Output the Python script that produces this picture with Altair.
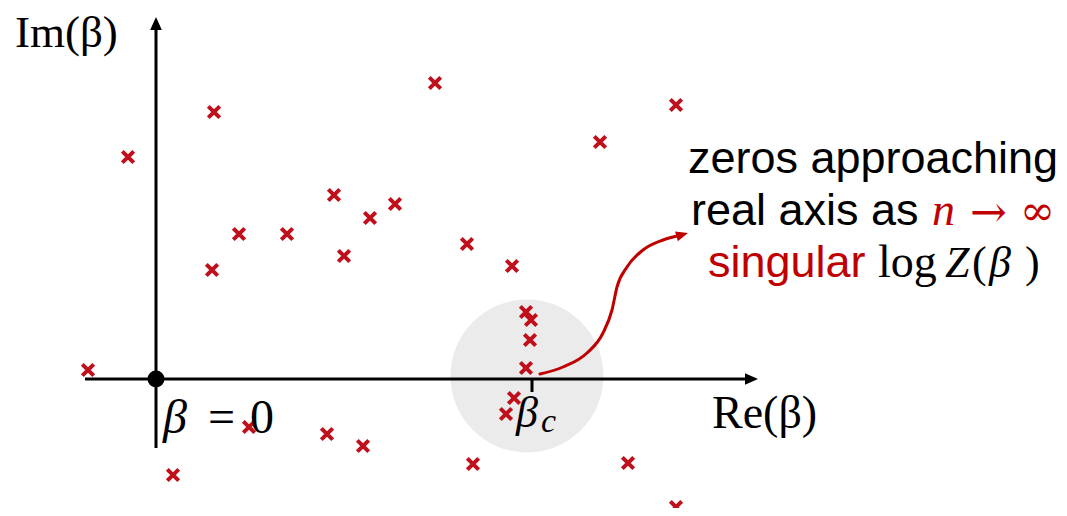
import altair as alt
import pandas as pd

# Zeros of Z(beta) in the complex plane (diagram units, origin at beta = 0)
zero_re = [-68, -28, 58, 279, 520, 444, 178, 239, 214, 83, 131, 311, 188, 56,
           356, 370, 375, 374, 370, 358, 350, 93, 171, 207, 17, 317, 472, 520]
zero_im = [9, 222, 267, 296, 274, 237, 184, 175, 161, 145, 145, 135, 123, 109,
           113, 67, 59, 39, 11, -19, -35, -48, -55, -67, -96, -85, -84, -128]

# Red arrow path (beta_c -> annotation)
curve_re = [384, 407, 431, 447, 456, 461, 471, 487, 507, 526]
curve_im = [5, 12, 26, 46, 69, 92, 112, 129, 139, 144]

# Axis extents
real_axis = [-71, 592]
imag_axis = [-69, 352]
real_tip = 602
imag_tip = 362
beta_c = 376

RED = "#c00000"
XR = alt.Scale(domain=[-148, 903], nice=False, zero=False)
YR = alt.Scale(domain=[-129, 371], nice=False, zero=False)


def X(f="re"):
    return alt.X(f"{f}:Q", scale=XR, axis=None)


def Y(f="im"):
    return alt.Y(f"{f}:Q", scale=YR, axis=None)


layers = []

# shaded neighbourhood of beta_c
layers.append(
    alt.Chart(pd.DataFrame({"re": [371], "im": [3]}))
    .mark_point(shape="circle", filled=True, size=23400, color="#ebebeb", opacity=1)
    .encode(x=X(), y=Y())
)

# real axis
layers.append(
    alt.Chart(pd.DataFrame({"re": [real_axis[0]], "re2": [real_axis[1]], "im": [0]}))
    .mark_rule(color="black", strokeWidth=3)
    .encode(x=X(), x2="re2:Q", y=Y())
)
layers.append(
    alt.Chart(pd.DataFrame({"re": [real_tip], "im": [0]}))
    .mark_point(shape="M0,0L-2,-0.9L-2,0.9Z", filled=True, size=169, color="black", opacity=1)
    .encode(x=X(), y=Y())
)

# imaginary axis
layers.append(
    alt.Chart(pd.DataFrame({"re": [0], "im": [imag_axis[0]], "im2": [imag_axis[1]]}))
    .mark_rule(color="black", strokeWidth=3)
    .encode(x=X(), y=Y(), y2="im2:Q")
)
layers.append(
    alt.Chart(pd.DataFrame({"re": [0], "im": [imag_tip]}))
    .mark_point(shape="M0,0L-0.9,2L0.9,2Z", filled=True, size=169, color="black", opacity=1)
    .encode(x=X(), y=Y())
)

# origin dot
layers.append(
    alt.Chart(pd.DataFrame({"re": [0], "im": [0]}))
    .mark_point(shape="circle", filled=True, size=289, color="black", opacity=1)
    .encode(x=X(), y=Y())
)

# beta_c tick
layers.append(
    alt.Chart(pd.DataFrame({"re": [beta_c], "im": [0], "im2": [-13]}))
    .mark_rule(color="black", strokeWidth=3)
    .encode(x=X(), y=Y(), y2="im2:Q")
)

# zeros (crosses)
layers.append(
    alt.Chart(pd.DataFrame({"re": zero_re, "im": zero_im}))
    .mark_point(shape="M-1,-1L1,1M1,-1L-1,1", filled=False, size=130,
                stroke="#c0101c", strokeWidth=4, opacity=1)
    .encode(x=X(), y=Y())
)

# red curved arrow
layers.append(
    alt.Chart(pd.DataFrame({"re": curve_re, "im": curve_im}))
    .mark_line(color=RED, strokeWidth=3, interpolate="monotone", strokeCap="round")
    .encode(x=X(), y=Y())
)
layers.append(
    alt.Chart(pd.DataFrame({"re": [532], "im": [146]}))
    .mark_point(shape="M0,0L-2,-0.85L-2,0.85Z", filled=True, size=144, color=RED,
                opacity=1, angle=344)
    .encode(x=X(), y=Y())
)

SANS = "Liberation Sans, Arial, sans-serif"
SERIF = "Liberation Serif, Times New Roman, serif"
DSERIF = "DejaVu Serif, serif"

labels = [
    # text, re, im, color, font, size, style, align
    ("Im(β)", -141, 332, "black", SERIF, 45, "normal", "left"),
    ("Re(β)", 556, -49, "black", SERIF, 46, "normal", "left"),
    ("β", 7, -54, "black", SERIF, 48, "italic", "left"),
    ("=", 52, -54, "black", SERIF, 48, "normal", "left"),
    ("0", 94, -54, "black", SERIF, 48, "normal", "left"),
    ("β", 360, -48, "black", SERIF, 44, "italic", "left"),
    ("c", 385, -53, "black", SERIF, 34, "italic", "left"),
    ("zeros approaching", 717, 206, "black", SANS, 45, "normal", "center"),
    ("real axis as", 535, 154, "black", SANS, 45, "normal", "left"),
    ("n", 776, 154, RED, SERIF, 46, "italic", "left"),
    ("→", 814, 152, RED, DSERIF, 44, "normal", "left"),
    ("∞", 864, 154, RED, DSERIF, 42, "normal", "left"),
    ("singular", 552, 102, RED, SANS, 45, "normal", "left"),
    ("log", 722, 102, "black", SERIF, 46, "normal", "left"),
    ("Z", 789, 102, "black", SERIF, 44, "italic", "left"),
    ("(", 816, 102, "black", SERIF, 44, "normal", "left"),
    ("β", 833, 102, "black", SERIF, 44, "italic", "left"),
    (")", 869, 102, "black", SERIF, 44, "normal", "left"),
]

for txt, r, i, col, font, size, style, align in labels:
    layers.append(
        alt.Chart(pd.DataFrame({"re": [r], "im": [i], "t": [txt]}))
        .mark_text(font=font, fontSize=size, fontStyle=style, color=col,
                   align=align, baseline="alphabetic")
        .encode(x=X(), y=Y(), text="t:N")
    )

chart = (
    alt.layer(*layers)
    .properties(width=1051, height=500, padding=0, autosize=alt.AutoSizeParams(type="none"))
    .configure_view(stroke=None)
)

chart.save("out.html", embed_options={"renderer": "svg", "actions": False})
